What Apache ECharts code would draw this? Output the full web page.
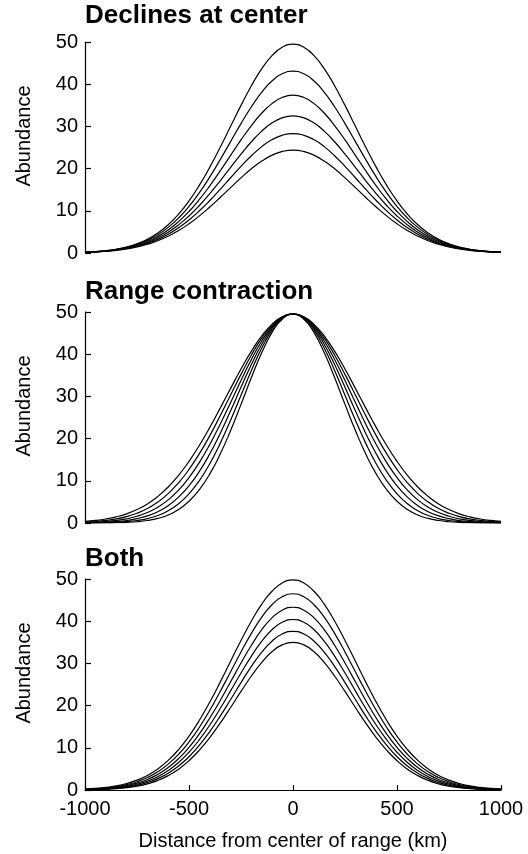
<!DOCTYPE html>
<html>
<head>
<meta charset="utf-8">
<script src="https://cdn.jsdelivr.net/npm/echarts@6/dist/echarts.min.js"></script>
<style>
  html, body { margin: 0; padding: 0; background: #fff; }
  #main { width: 528px; height: 854px; }
</style>
</head>
<body>
<div id="main"></div>
<script>
// distance from center of range (km), every 50 km
var km = [-1000, -950, -900, -850, -800, -750, -700, -650, -600, -550, -500,
          -450, -400, -350, -300, -250, -200, -150, -100, -50, 0,
          50, 100, 150, 200, 250, 300, 350, 400, 450, 500,
          550, 600, 650, 700, 750, 800, 850, 900, 950, 1000];

// Declines at center
var decline1 = [0.19,0.33,0.55,0.89,1.41,2.17,3.25,4.73,6.70,9.22,12.34,16.07,20.35,25.06,30.02,34.98,39.64,43.68,46.83,48.82,49.5,
                48.82,46.83,43.68,39.64,34.98,30.02,25.06,20.35,16.07,12.34,9.22,6.70,4.73,3.25,2.17,1.41,0.89,0.55,0.33,0.19];
var decline2 = [0.19,0.32,0.52,0.84,1.32,2.01,2.99,4.32,6.07,8.30,11.05,14.31,18.03,22.12,26.40,30.67,34.66,38.13,40.82,42.52,43.1,
                42.52,40.82,38.13,34.66,30.67,26.40,22.12,18.03,14.31,11.05,8.30,6.07,4.32,2.99,2.01,1.32,0.84,0.52,0.32,0.19];
var decline3 = [0.18,0.30,0.49,0.79,1.23,1.86,2.73,3.92,5.47,7.44,9.84,12.68,15.92,19.44,23.13,26.79,30.21,33.17,35.46,36.90,37.4,
                36.90,35.46,33.17,30.21,26.79,23.13,19.44,15.92,12.68,9.84,7.44,5.47,3.92,2.73,1.86,1.23,0.79,0.49,0.30,0.18];
var decline4 = [0.17,0.29,0.47,0.74,1.14,1.71,2.50,3.56,4.93,6.67,8.78,11.26,14.06,17.11,20.29,23.43,26.36,28.89,30.84,32.08,32.5,
                32.08,30.84,28.89,26.36,23.43,20.29,17.11,14.06,11.26,8.78,6.67,4.93,3.56,2.50,1.71,1.14,0.74,0.47,0.29,0.17];
var decline5 = [0.17,0.27,0.44,0.69,1.06,1.57,2.28,3.23,4.45,5.98,7.84,10.00,12.44,15.08,17.83,20.53,23.04,25.21,26.88,27.94,28.3,
                27.94,26.88,25.21,23.04,20.53,17.83,15.08,12.44,10.00,7.84,5.98,4.45,3.23,2.28,1.57,1.06,0.69,0.44,0.27,0.17];
var decline6 = [0.16,0.26,0.41,0.64,0.97,1.43,2.07,2.90,3.98,5.31,6.92,8.79,10.90,13.16,15.50,17.81,19.95,21.78,23.20,24.09,24.4,
                24.09,23.20,21.78,19.95,17.81,15.50,13.16,10.90,8.79,6.92,5.31,3.98,2.90,2.07,1.43,0.97,0.64,0.41,0.26,0.16];

// Range contraction
var contract1 = [0.37,0.60,0.95,1.45,2.17,3.18,4.52,6.29,8.53,11.30,14.60,18.42,22.66,27.22,31.90,36.48,40.72,44.35,47.14,48.90,49.5,
                 48.90,47.14,44.35,40.72,36.48,31.90,27.22,22.66,18.42,14.60,11.30,8.53,6.29,4.52,3.18,2.17,1.45,0.95,0.60,0.37];
var contract2 = [0.21,0.36,0.60,0.97,1.52,2.31,3.43,4.96,6.97,9.53,12.69,16.43,20.71,25.40,30.32,35.22,39.81,43.79,46.88,48.83,49.5,
                 48.83,46.88,43.79,39.81,35.22,30.32,25.40,20.71,16.43,12.69,9.53,6.97,4.96,3.43,2.31,1.52,0.97,0.60,0.36,0.21];
var contract3 = [0.11,0.20,0.35,0.60,0.99,1.59,2.48,3.74,5.48,7.79,10.74,14.36,18.61,23.41,28.55,33.78,38.76,43.14,46.56,48.75,49.5,
                 48.75,46.56,43.14,38.76,33.78,28.55,23.41,18.61,14.36,10.74,7.79,5.48,3.74,2.48,1.59,0.99,0.60,0.35,0.20,0.11];
var contract4 = [0.05,0.10,0.18,0.34,0.59,1.02,1.68,2.67,4.11,6.12,8.80,12.22,16.39,21.23,26.58,32.14,37.55,42.37,46.20,48.65,49.5,
                 48.65,46.20,42.37,37.55,32.14,26.58,21.23,16.39,12.22,8.80,6.12,4.11,2.67,1.68,1.02,0.59,0.34,0.18,0.10,0.05];
var contract5 = [0.02,0.04,0.08,0.17,0.32,0.59,1.04,1.78,2.91,4.57,6.91,10.05,14.04,18.87,24.37,30.26,36.13,41.46,45.75,48.54,49.5,
                 48.54,45.75,41.46,36.13,30.26,24.37,18.87,14.04,10.05,6.91,4.57,2.91,1.78,1.04,0.59,0.32,0.17,0.08,0.04,0.02];
var contract6 = [0.01,0.01,0.03,0.07,0.15,0.30,0.59,1.08,1.90,3.20,5.15,7.91,11.63,16.33,21.91,28.11,34.46,40.38,45.22,48.39,49.5,
                 48.39,45.22,40.38,34.46,28.11,21.91,16.33,11.63,7.91,5.15,3.20,1.90,1.08,0.59,0.30,0.15,0.07,0.03,0.01,0.01];

// Both
var both1 = [0.21,0.37,0.60,0.97,1.53,2.33,3.45,4.99,7.01,9.59,12.76,16.53,20.84,25.56,30.50,35.43,40.05,44.06,47.16,49.13,49.8,
             49.13,47.16,44.06,40.05,35.43,30.50,25.56,20.84,16.53,12.76,9.59,7.01,4.99,3.45,2.33,1.53,0.97,0.60,0.37,0.21];
var both2 = [0.17,0.29,0.49,0.80,1.27,1.96,2.95,4.31,6.13,8.47,11.38,14.87,18.89,23.33,28.01,32.71,37.12,40.97,43.95,45.85,46.5,
             45.85,43.95,40.97,37.12,32.71,28.01,23.33,18.89,14.87,11.38,8.47,6.13,4.31,2.95,1.96,1.27,0.80,0.49,0.29,0.17];
var both3 = [0.13,0.23,0.39,0.64,1.04,1.64,2.49,3.70,5.32,7.44,10.10,13.31,17.05,21.21,25.64,30.09,34.30,37.98,40.85,42.67,43.3,
             42.67,40.85,37.98,34.30,30.09,25.64,21.21,17.05,13.31,10.10,7.44,5.32,3.70,2.49,1.64,1.04,0.64,0.39,0.23,0.13];
var both4 = [0.10,0.18,0.31,0.52,0.85,1.36,2.11,3.16,4.61,6.52,8.95,11.92,15.40,19.31,23.48,27.72,31.74,35.28,38.04,39.80,40.4,
             39.80,38.04,35.28,31.74,27.72,23.48,19.31,15.40,11.92,8.95,6.52,4.61,3.16,2.11,1.36,0.85,0.52,0.31,0.18,0.10];
var both5 = [0.07,0.13,0.24,0.41,0.69,1.12,1.76,2.69,3.97,5.69,7.89,10.62,13.85,17.50,21.44,25.45,29.29,32.67,35.32,37.02,37.6,
             37.02,35.32,32.67,29.29,25.45,21.44,17.50,13.85,10.62,7.89,5.69,3.97,2.69,1.76,1.12,0.69,0.41,0.24,0.13,0.07];
var both6 = [0.05,0.10,0.19,0.33,0.56,0.92,1.47,2.27,3.41,4.94,6.94,9.44,12.43,15.84,19.55,23.36,27.02,30.26,32.81,34.44,35.0,
             34.44,32.81,30.26,27.02,23.36,19.55,15.84,12.43,9.44,6.94,4.94,3.41,2.27,1.47,0.92,0.56,0.33,0.19,0.10,0.05];

var panelTitles = ['Declines at center', 'Range contraction', 'Both'];
var panelCurves = [
  [decline1, decline2, decline3, decline4, decline5, decline6],
  [contract1, contract2, contract3, contract4, contract5, contract6],
  [both1, both2, both3, both4, both5, both6]
];
var yTicks = [0, 10, 20, 30, 40, 50];
var xTicks = [-1000, -500, 0, 500, 1000];

var font = 'Liberation Sans, Arial, Helvetica, sans-serif';
var gridTops = [42, 312, 579];
var titleTops = [3, 279, 546];

var myChart = echarts.init(document.getElementById('main'));

var titles = [], grids = [], xAxes = [], yAxes = [], series = [];
for (var p = 0; p < 3; p++) {
  titles.push({
    text: panelTitles[p], left: 85, top: titleTops[p], padding: 0,
    textStyle: { fontFamily: font, fontSize: 26, fontWeight: 'bold', color: '#000' }
  });
  grids.push({ left: 85, right: 27, top: gridTops[p], height: 211 });
  var last = (p === 2);
  xAxes.push({
    type: 'value', gridIndex: p,
    min: xTicks[0], max: xTicks[xTicks.length - 1], interval: 500,
    show: last,
    name: last ? 'Distance from center of range (km)' : '',
    nameLocation: 'middle', nameGap: 41,
    nameTextStyle: { fontFamily: font, fontSize: 20, color: '#000' },
    axisLine: { show: true, onZero: false, lineStyle: { color: '#000', width: 1.2 } },
    axisTick: { show: true, inside: true, length: 5, lineStyle: { color: '#000', width: 1.2 } },
    axisLabel: {
      fontFamily: font, fontSize: 20, color: '#000', margin: 9,
      formatter: function (v) { return String(v); }
    },
    splitLine: { show: false }
  });
  yAxes.push({
    type: 'value', gridIndex: p,
    min: yTicks[0], max: yTicks[yTicks.length - 1], interval: 10,
    name: 'Abundance', nameLocation: 'middle', nameGap: 51,
    nameTextStyle: { fontFamily: font, fontSize: 20, color: '#000', padding: [0, 0, 0, 23] },
    axisLine: { show: true, onZero: false, lineStyle: { color: '#000', width: 1.2 } },
    axisTick: { show: true, inside: true, length: 6, lineStyle: { color: '#000', width: 1.2 } },
    axisLabel: { fontFamily: font, fontSize: 20, color: '#000', margin: 7 },
    splitLine: { show: false }
  });
  panelCurves[p].forEach(function (vals) {
    series.push({
      type: 'line', xAxisIndex: p, yAxisIndex: p,
      data: km.map(function (x, i) { return [x, vals[i]]; }),
      smooth: true, showSymbol: false,
      lineStyle: { color: '#000', width: 1.2 }
    });
  });
}

var option = {
  backgroundColor: '#fff',
  animation: false,
  title: titles,
  grid: grids,
  xAxis: xAxes,
  yAxis: yAxes,
  series: series
};
myChart.setOption(option);
</script>
</body>
</html>
